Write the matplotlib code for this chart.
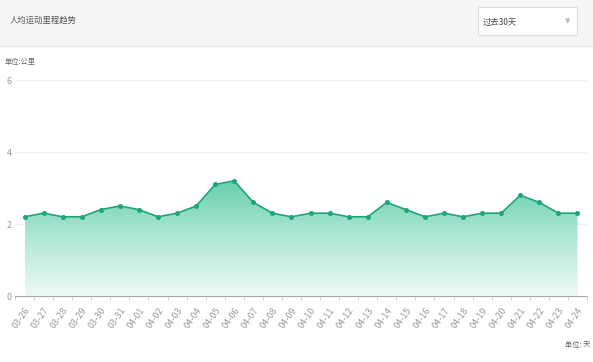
import numpy as np
import matplotlib
matplotlib.use("Agg")
import matplotlib.pyplot as plt
from matplotlib.colors import LinearSegmentedColormap
from matplotlib.patches import Rectangle

plt.rcParams['font.family'] = ['Noto Sans CJK SC', 'DejaVu Sans']

# data
dates = ["03-26", "03-27", "03-28", "03-29", "03-30", "03-31", "04-01", "04-02",
         "04-03", "04-04", "04-05", "04-06", "04-07", "04-08", "04-09", "04-10",
         "04-11", "04-12", "04-13", "04-14", "04-15", "04-16", "04-17", "04-18",
         "04-19", "04-20", "04-21", "04-22", "04-23", "04-24"]
km = [2.2, 2.3, 2.2, 2.2, 2.4, 2.5, 2.4, 2.2, 2.3, 2.5, 3.1, 3.2, 2.6, 2.3, 2.2,
      2.3, 2.3, 2.2, 2.2, 2.6, 2.4, 2.2, 2.3, 2.2, 2.3, 2.3, 2.8, 2.6, 2.3, 2.3]
yticks = [0, 2, 4, 6]

W, H = 593, 362
fig = plt.figure(figsize=(W / 100, H / 100), dpi=100)
fig.patch.set_facecolor("white")

# header band
fig.patches.append(Rectangle((0, 1 - 46 / H), 1, 46 / H, transform=fig.transFigure,
                             facecolor="#f5f5f5", edgecolor="none", zorder=0))
fig.lines.append(plt.Line2D([0, 1], [1 - 46 / H] * 2, transform=fig.transFigure,
                            color="#e6e6e6", lw=1))
fig.text(10 / W, 1 - 20 / H, "人均运动里程趋势", fontsize=6, color="#555555", va="center")

# dropdown box
fig.patches.append(Rectangle((478 / W, 1 - 35 / H), 99 / W, 28 / H, transform=fig.transFigure,
                             facecolor="white", edgecolor="#dddddd", lw=0.8, zorder=1))
fig.text(483 / W, 1 - 22 / H, "过去30天", fontsize=6, color="#444444", va="center", zorder=2)
fig.text(568 / W, 1 - 21 / H, "▼", fontsize=5, color="#bbbbbb", va="center", ha="center",
         family="DejaVu Sans", zorder=2)

fig.text(5 / W, 1 - 62 / H, "单位:公里", fontsize=5.2, color="#666666", va="center")
fig.text(590 / W, 1 - 345 / H, "单位: 天", fontsize=5.2, color="#666666", va="center", ha="right")

ax = fig.add_axes([15 / W, 1 - 296 / H, 572 / W, 216 / H])
ax.set_facecolor("none")
x = np.arange(len(dates))
ax.set_xlim(-0.5, len(dates) - 0.5)
ax.set_ylim(0, 6)

for s in ["top", "right", "left"]:
    ax.spines[s].set_visible(False)
ax.spines["bottom"].set_color("#aaaaaa")
ax.spines["bottom"].set_linewidth(0.8)

ax.set_yticks(yticks)
ax.set_yticklabels([str(v) for v in yticks])
ax.tick_params(axis="y", length=0, labelsize=6.5, labelcolor="#999999")
for lab in ax.get_yticklabels():
    lab.set_horizontalalignment("center")
ax.yaxis.set_tick_params(pad=4)
for v in yticks[1:]:
    ax.axhline(v, color="#eeeeee", lw=0.8, zorder=0)

ax.set_xticks(x)
ax.set_xticklabels(dates, rotation=55, ha="right", va="top", rotation_mode="anchor",
                   fontsize=6.5, color="#999999", style="italic")
ax.tick_params(axis="x", length=0, pad=7)
ax.set_xticks(np.arange(len(dates) + 1) - 0.5, minor=True)
ax.tick_params(axis="x", which="minor", length=3, color="#cccccc", width=0.6)

# gradient area
cmap = LinearSegmentedColormap.from_list("g", ["#eef9f5", "#b0e8d5", "#68cfab"])
grad = np.linspace(0, 1, 256).reshape(-1, 1)
top = max(km)
im = ax.imshow(grad, extent=[x[0], x[-1], 0, top], origin="lower", aspect="auto",
               cmap=cmap, zorder=1)
poly = ax.fill_between(x, km, 0, facecolor="none", edgecolor="none")
im.set_clip_path(poly.get_paths()[0], transform=ax.transData)

ax.plot(x, km, color="#1ea67a", lw=1.2, marker="o", ms=2.6, zorder=3)

fig.savefig("out.png", dpi=100)
